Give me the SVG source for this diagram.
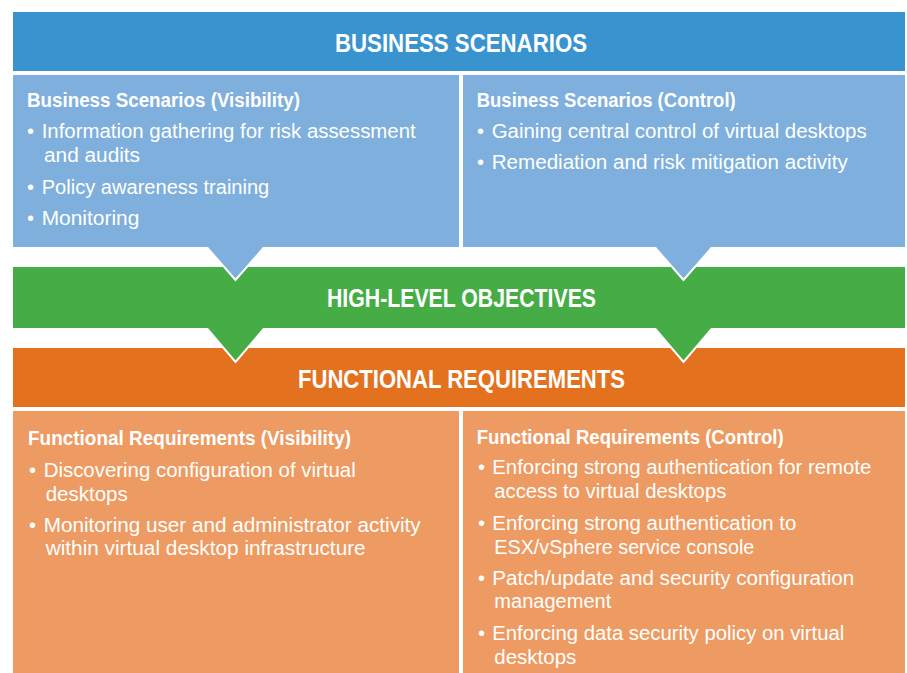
<svg xmlns="http://www.w3.org/2000/svg" width="907" height="673" viewBox="0 0 907 673">
<style>
.hdr{font-family:"Liberation Sans",Arial,sans-serif;font-weight:bold;font-size:25px;fill:#fff;text-anchor:middle}
.sub{font-family:"Liberation Sans",Arial,sans-serif;font-weight:bold;font-size:19.5px;fill:#fff}
.bd{font-family:"Liberation Sans",Arial,sans-serif;font-size:20px;fill:#fff}
.tri{stroke:#fff;stroke-width:2;stroke-linejoin:miter}
</style>
<rect width="907" height="673" fill="#fff"/>
<g id="functional-requirements">
<rect x="13" y="348" width="892" height="59" fill="#E3711E"/>
<text class="hdr" x="461.5" y="388" textLength="327" lengthAdjust="spacingAndGlyphs">FUNCTIONAL REQUIREMENTS</text>
</g>
<g id="connectors">
<polygon class="tri" points="204,325 267,325 235.5,362" fill="#46AC46"/>
<polygon class="tri" points="652,325 715,325 683.5,362" fill="#46AC46"/>
</g>
<g id="high-level-objectives">
<rect x="13" y="267" width="892" height="61" fill="#46AC46"/>
<text class="hdr" x="461.5" y="307" textLength="269" lengthAdjust="spacingAndGlyphs">HIGH-LEVEL OBJECTIVES</text>
</g>
<g id="connectors-top">
<polygon class="tri" points="204,244 267,244 235.5,280" fill="#7FAFDD"/>
<polygon class="tri" points="652,244 715,244 683.5,280" fill="#7FAFDD"/>
</g>
<g id="business-scenarios">
<rect x="13" y="12" width="892" height="59" fill="#3893CF"/>
<text class="hdr" x="461" y="52" textLength="252" lengthAdjust="spacingAndGlyphs">BUSINESS SCENARIOS</text>
</g>
<g id="bs-visibility">
<rect x="13" y="75" width="446" height="172" fill="#7FAFDD"/>
<text class="sub" x="27" y="107" textLength="273" lengthAdjust="spacingAndGlyphs">Business Scenarios (Visibility)</text>
<text class="bd" x="27" y="137.5">•</text>
<text class="bd" x="41.7" y="137.5" textLength="374" lengthAdjust="spacingAndGlyphs">Information gathering for risk assessment</text>
<text class="bd" x="44" y="161.5" textLength="96" lengthAdjust="spacingAndGlyphs">and audits</text>
<text class="bd" x="27" y="194">•</text>
<text class="bd" x="41.7" y="194" textLength="227.6" lengthAdjust="spacingAndGlyphs">Policy awareness training</text>
<text class="bd" x="27" y="225">•</text>
<text class="bd" x="41.7" y="225" textLength="97.6" lengthAdjust="spacingAndGlyphs">Monitoring</text>
</g>
<g id="bs-control">
<rect x="463" y="75" width="442" height="172" fill="#7FAFDD"/>
<text class="sub" x="476.7" y="107" textLength="259" lengthAdjust="spacingAndGlyphs">Business Scenarios (Control)</text>
<text class="bd" x="477" y="137.5">•</text>
<text class="bd" x="491.7" y="137.5" textLength="375" lengthAdjust="spacingAndGlyphs">Gaining central control of virtual desktops</text>
<text class="bd" x="477" y="169">•</text>
<text class="bd" x="491.7" y="169" textLength="356" lengthAdjust="spacingAndGlyphs">Remediation and risk mitigation activity</text>
</g>
<g id="fr-visibility">
<rect x="13" y="411" width="446" height="262" fill="#ED9B62"/>
<text class="sub" x="28" y="445" textLength="323" lengthAdjust="spacingAndGlyphs">Functional Requirements (Visibility)</text>
<text class="bd" x="29" y="476.5">•</text>
<text class="bd" x="43.7" y="476.5" textLength="312" lengthAdjust="spacingAndGlyphs">Discovering configuration of virtual</text>
<text class="bd" x="45.7" y="500.5" textLength="82" lengthAdjust="spacingAndGlyphs">desktops</text>
<text class="bd" x="29" y="531.5">•</text>
<text class="bd" x="43.7" y="531.5" textLength="377" lengthAdjust="spacingAndGlyphs">Monitoring user and administrator activity</text>
<text class="bd" x="45.7" y="555" textLength="320" lengthAdjust="spacingAndGlyphs">within virtual desktop infrastructure</text>
</g>
<g id="fr-control">
<rect x="463" y="411" width="442" height="262" fill="#ED9B62"/>
<text class="sub" x="476.7" y="443.5" textLength="307" lengthAdjust="spacingAndGlyphs">Functional Requirements (Control)</text>
<text class="bd" x="478" y="474">•</text>
<text class="bd" x="492.3" y="474" textLength="379" lengthAdjust="spacingAndGlyphs">Enforcing strong authentication for remote</text>
<text class="bd" x="494.3" y="498.3" textLength="232" lengthAdjust="spacingAndGlyphs">access to virtual desktops</text>
<text class="bd" x="478" y="530">•</text>
<text class="bd" x="492.3" y="530" textLength="304" lengthAdjust="spacingAndGlyphs">Enforcing strong authentication to</text>
<text class="bd" x="494.3" y="554.3" textLength="260" lengthAdjust="spacingAndGlyphs">ESX/vSphere service console</text>
<text class="bd" x="478" y="585">•</text>
<text class="bd" x="492.3" y="585" textLength="362" lengthAdjust="spacingAndGlyphs">Patch/update and security configuration</text>
<text class="bd" x="494.3" y="608.3" textLength="117" lengthAdjust="spacingAndGlyphs">management</text>
<text class="bd" x="478" y="640">•</text>
<text class="bd" x="492.3" y="640" textLength="352" lengthAdjust="spacingAndGlyphs">Enforcing data security policy on virtual</text>
<text class="bd" x="494.3" y="664" textLength="82" lengthAdjust="spacingAndGlyphs">desktops</text>
</g>
</svg>
